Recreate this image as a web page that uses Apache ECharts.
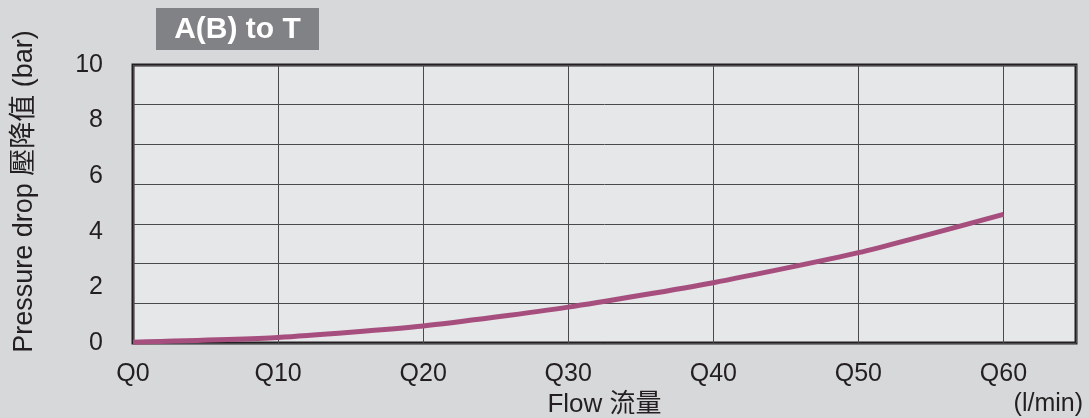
<!DOCTYPE html>
<html>
<head>
<meta charset="utf-8">
<script src="https://cdn.jsdelivr.net/npm/echarts@6/dist/echarts.min.js"></script>
<style>
html,body{margin:0;padding:0;background:#d7d8da;}
#c{width:1089px;height:418px;}
</style>
</head>
<body>
<div id="c"></div>
<script>
var flowQ = [0, 10, 20, 30, 40, 50, 60];
var pressureDrop = [0.03, 0.2, 0.61, 1.29, 2.17, 3.25, 4.63];
var yTickLabels = [0, 2, 4, 6, 8, 10];
var xTickLabels = ['Q0','Q10','Q20','Q30','Q40','Q50','Q60'];

var FONT = "'Liberation Sans', Arial, 'Noto Sans CJK TC', sans-serif";
var chart = echarts.init(document.getElementById('c'));
var data = flowQ.map(function (q, i) { return [q, pressureDrop[i]]; });

chart.setOption({
  backgroundColor: '#d7d8da',
  animation: false,
  grid: {
    left: 133, top: 65, right: 13, bottom: 75,
    containLabel: false, outerBoundsMode: 'none',
    show: true, backgroundColor: '#e6e7e9',
    borderColor: '#231f20', borderWidth: 3
  },
  xAxis: {
    type: 'value', min: 0, max: 65, interval: 10,
    axisLine: { show: false }, axisTick: { show: false },
    splitLine: { show: true, lineStyle: { color: '#4a4a4c', width: 1 } },
    axisLabel: {
      color: '#231f20', fontSize: 25, fontFamily: FONT, margin: 19,
      showMaxLabel: false,
      formatter: function (v) {
        var i = flowQ.indexOf(v);
        return i >= 0 ? xTickLabels[i] : '';
      }
    },
    name: 'Flow 流量', nameLocation: 'middle', nameGap: 48,
    nameTextStyle: { color: '#231f20', fontSize: 26, fontFamily: FONT }
  },
  yAxis: [{
    type: 'value', min: 0, max: 10, interval: 2,
    axisLine: { show: false }, axisTick: { show: false },
    splitLine: { show: false },
    axisLabel: {
      color: '#231f20', fontSize: 25, fontFamily: FONT, margin: 30,
      formatter: function (v) { return yTickLabels.indexOf(v) >= 0 ? String(v) : ''; }
    }
  }, {
    type: 'value', min: 0, max: 7, interval: 1, position: 'left',
    axisLine: { show: false }, axisTick: { show: false },
    axisLabel: { show: false },
    splitLine: { show: true, lineStyle: { color: '#4a4a4c', width: 1 } }
  }],
  series: [{
    type: 'line', data: data, yAxisIndex: 0,
    smooth: 0.2, symbol: 'none',
    lineStyle: { color: '#a64f7f', width: 5 }
  }],
  graphic: [
    { type: 'rect', left: 156, top: 8, shape: { width: 163, height: 42 },
      style: { fill: '#808285' } },
    { type: 'text', x: 237.5, y: 30,
      style: { text: 'A(B) to T', fill: '#ffffff', font: 'bold 30px ' + FONT,
               textAlign: 'center', textVerticalAlign: 'middle' } },
    { type: 'text', x: 25, y: 191.5, rotation: Math.PI / 2,
      style: { text: 'Pressure drop 壓降值 (bar)', fill: '#231f20', font: '27px ' + FONT,
               textAlign: 'center', textVerticalAlign: 'middle' } },
    { type: 'text', x: 1083, y: 404,
      style: { text: '(l/min)', fill: '#231f20', font: '25px ' + FONT,
               textAlign: 'right', textVerticalAlign: 'middle' } }
  ]
});
</script>
</body>
</html>
